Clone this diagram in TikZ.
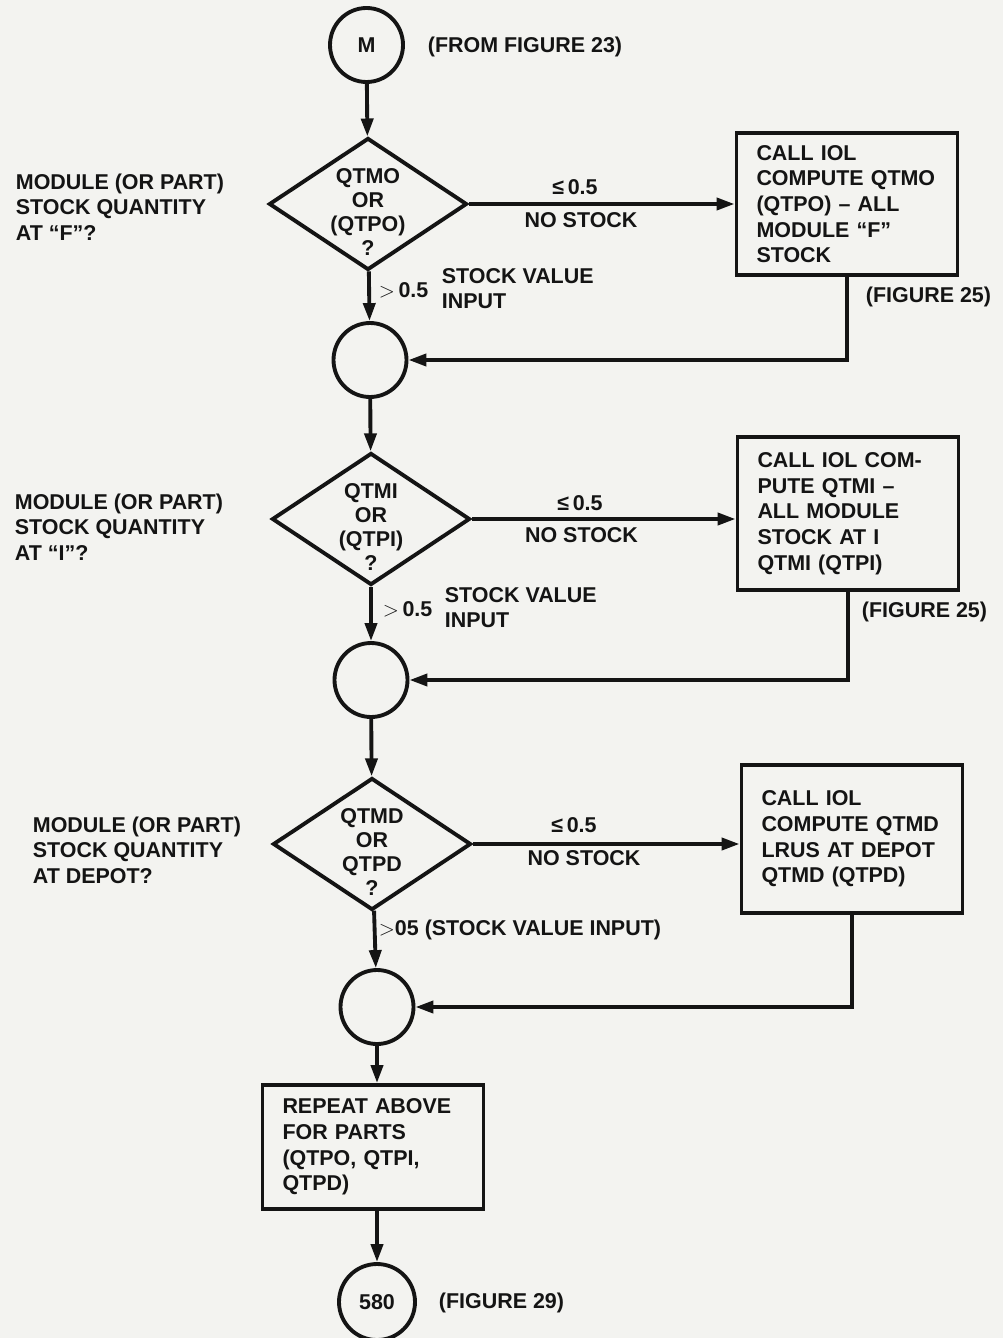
\documentclass[tikz,border=0pt]{standalone}
\usepackage{fontspec}
\setmainfont{Liberation Sans}
\usetikzlibrary{shapes.geometric,arrows.meta}
\definecolor{paper}{RGB}{243,243,240}
\definecolor{ink}{RGB}{20,20,20}
\begin{document}
\begin{tikzpicture}[x=1cm,y=1cm,line width=2.2pt,color=ink,
  font=\fontsize{12.2}{14.6}\selectfont\bfseries,
  conn/.style={draw,ellipse,minimum width=1.46cm,minimum height=1.48cm,inner sep=0pt},
  decision/.style={draw,diamond,minimum width=3.96cm,minimum height=2.64cm,inner sep=0pt},
  dectext/.style={align=center,inner sep=0pt,font=\fontsize{12.2}{13.6}\selectfont\bfseries},
  procbox/.style={draw,rectangle,text width=3.62cm,align=left,inner xsep=0.4cm,inner ysep=0pt},
  note/.style={anchor=west,align=left,inner sep=0pt},
  flow/.style={-{Triangle[length=0.36cm,width=0.24cm]}}]
\useasboundingbox (0,0) rectangle (20.06,-26.76);
\fill[paper] (0,0) rectangle (20.06,-26.76);
% Entry connector from figure 23.
\node[conn] (m) at (7.33,-0.90) {M};
\node[note] (m-from) at (8.52,-0.94) {(FROM FIGURE 23)};
% Stage 1: stock at F.
\node[decision] (dec-f) at (7.36,-4.08) {};
\node[dectext] (dec-f-txt) at (7.36,-4.24) {QTMO\\OR\\(QTPO)\\?};
\node[note] (ask-f) at (0.28,-4.14) {MODULE (OR PART)\\STOCK QUANTITY\\AT “F”?};
\node[procbox,minimum height=2.84cm] (iol-f) at (16.94,-4.08)
  {CALL IOL\\COMPUTE QTMO\\(QTPO) – ALL\\MODULE “F”\\STOCK};
\node (le-f) at (11.50,-3.74) {≤\,0.5};
\node (none-f) at (11.62,-4.40) {NO STOCK};
\node[note] (fig-f) at (17.28,-5.94) {(FIGURE 25)};
\node[note] (gt-f) at (7.54,-5.80) {$>$\,0.5};
\node[note] (val-f) at (8.80,-5.77) {STOCK VALUE\\INPUT};
\node[conn] (j-f) at (7.40,-7.20) {};
\draw[flow] (m) -- (dec-f);
\draw[flow] (dec-f) -- (iol-f);
\draw[flow] (dec-f) -- (j-f);
\draw[flow] (iol-f.south) |- (j-f.east);
% Stage 2: stock at I.
\node[decision] (dec-i) at (7.42,-10.38) {};
\node[dectext] (dec-i-txt) at (7.42,-10.54) {QTMI\\OR\\(QTPI)\\?};
\node[note] (ask-i) at (0.26,-10.54) {MODULE (OR PART)\\STOCK QUANTITY\\AT “I”?};
\node[procbox,minimum height=3.06cm] (iol-i) at (16.96,-10.27)
  {CALL IOL COM-\\PUTE QTMI –\\ALL MODULE\\STOCK AT I\\QTMI (QTPI)};
\node (le-i) at (11.60,-10.06) {≤\,0.5};
\node (none-i) at (11.63,-10.70) {NO STOCK};
\node[note] (fig-i) at (17.20,-12.24) {(FIGURE 25)};
\node[note] (gt-i) at (7.62,-12.18) {$>$\,0.5};
\node[note] (val-i) at (8.86,-12.15) {STOCK VALUE\\INPUT};
\node[conn] (j-i) at (7.42,-13.60) {};
\draw[flow] (j-f) -- (dec-i);
\draw[flow] (dec-i.east) -- (dec-i.east -| iol-i.west);
\draw[flow] (dec-i) -- (j-i);
\draw[flow] (iol-i.south) |- (j-i.east);
% Stage 3: stock at depot.
\node[decision] (dec-d) at (7.44,-16.88) {};
\node[dectext] (dec-d-txt) at (7.44,-17.04) {QTMD\\OR\\QTPD\\?};
\node[note] (ask-d) at (0.62,-17.00) {MODULE (OR PART)\\STOCK QUANTITY\\AT DEPOT?};
\node[procbox,minimum height=2.96cm] (iol-d) at (17.04,-16.78)
  {CALL IOL\\COMPUTE QTMD\\LRUS AT DEPOT\\QTMD (QTPD)};
\node (le-d) at (11.48,-16.50) {≤\,0.5};
\node (none-d) at (11.68,-17.16) {NO STOCK};
\node[note] (gt-d) at (7.54,-18.60) {$>$05 (STOCK VALUE INPUT)};
\node[conn] (j-d) at (7.54,-20.14) {};
\draw[flow] (j-i) -- (dec-d);
\draw[flow] (dec-d.east) -- (dec-d.east -| iol-d.west);
\draw[flow] (dec-d) -- (j-d);
\draw[flow] (iol-d.south) |- (j-d.east);
% Parts pass and exit to figure 29.
\node[procbox,minimum height=2.48cm] (parts) at (7.46,-22.94)
  {REPEAT ABOVE\\FOR PARTS\\(QTPO, QTPI,\\QTPD)};
\node[conn,minimum width=1.52cm,minimum height=1.52cm] (exit) at (7.54,-26.04) {580};
\node[note] (exit-to) at (8.74,-26.06) {(FIGURE 29)};
\draw[flow] (j-d) -- (j-d.south |- parts.north);
\draw[flow] (parts.south -| exit.north) -- (exit);
\end{tikzpicture}
\end{document}
